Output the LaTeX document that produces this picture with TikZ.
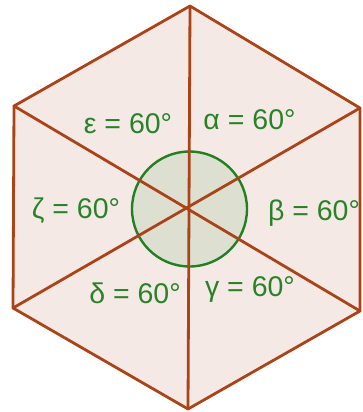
\documentclass[tikz,border=0pt]{standalone}
\usepackage{fontspec}
\setmainfont{Liberation Sans}
\definecolor{hexfill}{RGB}{245,233,229}
\definecolor{hexedge}{RGB}{170,68,24}
\definecolor{circfill}{RGB}{221,224,209}
\definecolor{circedge}{RGB}{34,128,34}
\definecolor{txtgreen}{RGB}{40,130,40}
\tikzset{
  edge/.style={draw=hexedge, line width=2.8pt, line join=round, line cap=round},
  lbl/.style={text=txtgreen, font=\fontsize{28.5}{31}\selectfont, inner sep=0pt, anchor=center}
}
\begin{document}
\begin{tikzpicture}[x=1pt,y=-1pt]
\useasboundingbox (0,0) rectangle (362,412);
\coordinate (T) at (190,6);
\coordinate (UR) at (360,108);
\coordinate (LR) at (360,311);
\coordinate (B) at (188,409);
\coordinate (LL) at (13,308);
\coordinate (UL) at (14,106);
\coordinate (C) at (189.5,209);
\fill[hexfill] (T) -- (UR) -- (LR) -- (B) -- (LL) -- (UL) -- cycle;
\fill[circfill] (C) circle[radius=57.5];
\draw[draw=circedge, line width=2.4pt] (C) circle[radius=57.5];
\draw[edge] (T) -- (B);
\draw[edge] (UL) -- (LR);
\draw[edge] (LL) -- (UR);
\draw[edge] (T) -- (UR) -- (LR) -- (B) -- (LL) -- (UL) -- cycle;
\node[lbl] (a) at (249.5,119.5) {α = 60°};
\node[lbl] (e) at (128,123.5) {ε = 60°};
\node[lbl] (z) at (76,211) {ζ = 60°};
\node[lbl] (b) at (314,213) {β = 60°};
\node[lbl] (d) at (135,293) {δ = 60°};
\node[lbl] (g) at (250,289) {γ = 60°};
\end{tikzpicture}
\end{document}
